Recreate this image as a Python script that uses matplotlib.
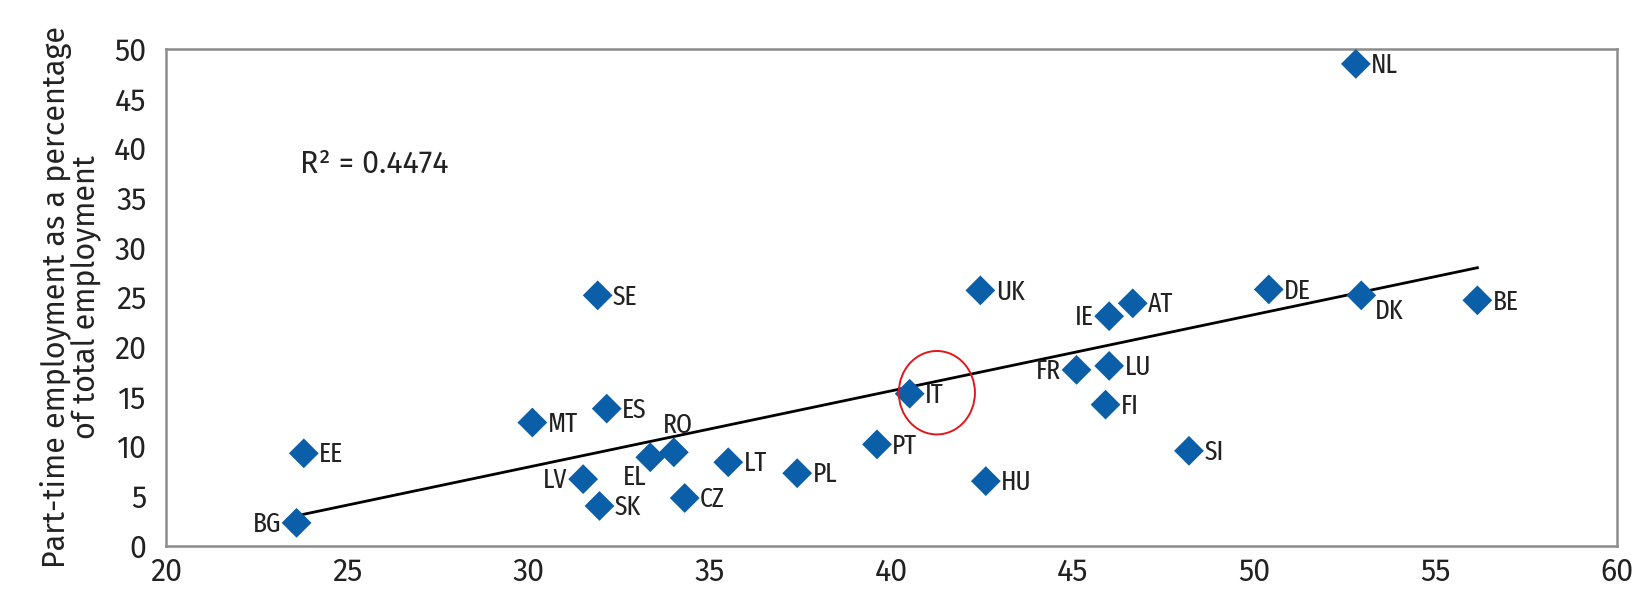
import numpy as np
import matplotlib
matplotlib.use("Agg")
import matplotlib.pyplot as plt
from matplotlib.patches import Ellipse

# --------------------------------------------------------------------------- #
# Data
# --------------------------------------------------------------------------- #
countries = ["BG", "EE", "MT", "SE", "ES", "LV", "SK", "EL", "RO", "CZ",
             "LT", "PL", "PT", "IT", "UK", "HU", "FR", "IE", "LU", "FI",
             "AT", "SI", "DE", "NL", "DK", "BE"]
x_vals = [23.6, 23.8, 30.1, 31.9, 32.15, 31.5, 31.95, 33.35, 34.0, 34.3,
          35.5, 37.4, 39.6, 40.5, 42.45, 42.6, 45.1, 46.0, 46.0, 45.9,
          46.65, 48.2, 50.4, 52.8, 52.95, 56.15]
y_vals = [2.3, 9.3, 12.4, 25.2, 13.8, 6.7, 4.0, 8.9, 9.4, 4.8,
          8.4, 7.3, 10.2, 15.3, 25.7, 6.5, 17.7, 23.1, 18.1, 14.2,
          24.4, 9.55, 25.8, 48.5, 25.2, 24.7]
# where each label sits relative to its marker
label_pos = ["left", "right", "right", "right", "right", "left", "right", "below", "above", "right",
             "right", "right", "right", "right", "right", "right", "left", "left", "right", "right",
             "right", "right", "right", "right", "belowright", "right"]

r_squared = "0.4474"
x_ticks = [20, 25, 30, 35, 40, 45, 50, 55, 60]
y_ticks = [0, 5, 10, 15, 20, 25, 30, 35, 40, 45, 50]
highlight = "IT"

BLUE = "#0b5ea8"
TXT = "#222222"
MAIN_FONT = ["Fira Sans", "DejaVu Sans"]
NARROW_FONT = ["Fira Sans Extra Condensed", "DejaVu Sans"]
plt.rcParams["font.family"] = MAIN_FONT

fig = plt.figure(figsize=(16.4, 5.96), dpi=100)
ax = fig.add_axes([0.1012, 0.0844, 0.8848, 0.8334])

# trend line (least squares over the plotted points)
x = np.array(x_vals)
y = np.array(y_vals)
slope, icpt = np.polyfit(x, y, 1)
xl = np.array([x.min(), x.max()])
ax.plot(xl, slope * xl + icpt, color="black", lw=2.0, zorder=2)

ax.scatter(x, y, marker="D", s=230, color=BLUE, edgecolors="none", zorder=3)

offsets = {
    "right": ((11, -1), "left", "center"),
    "left": ((-11, -1), "right", "center"),
    "above": ((3, 10), "center", "bottom"),
    "below": ((-11, -5), "center", "top"),
    "belowright": ((10, -2), "left", "top"),
}
for name, xv, yv, pos in zip(countries, x_vals, y_vals, label_pos):
    (dx, dy), ha, va = offsets[pos]
    ax.annotate(name, (xv, yv), xytext=(dx, dy), textcoords="offset points",
                ha=ha, va=va, fontsize=20, color=TXT, family=NARROW_FONT, zorder=4)

# red circle around the highlighted country
i = countries.index(highlight)
ax.add_patch(Ellipse((x_vals[i] + 0.75, y_vals[i] + 0.1), 2.1, 8.4,
                     fill=False, edgecolor="#e3161b", lw=1.4, zorder=5))

ax.text(23.7, 38.4, f"R² = {r_squared}", fontsize=22, color=TXT,
        va="center", ha="left")

ax.set_xlim(20, 60)
ax.set_ylim(0, 50)
ax.set_xticks(x_ticks)
ax.set_yticks(y_ticks)
ax.tick_params(length=0, labelsize=22, colors=TXT)
ax.tick_params(axis="x", pad=8)
ax.tick_params(axis="y", pad=14)
for s in ax.spines.values():
    s.set_color("#8c8c8c")
    s.set_linewidth(1.8)

ax.set_ylabel("Part-time employment as a percentage\nof total employment",
              fontsize=22, color=TXT, linespacing=1.0, labelpad=8)

fig.savefig("out.png", dpi=100)
